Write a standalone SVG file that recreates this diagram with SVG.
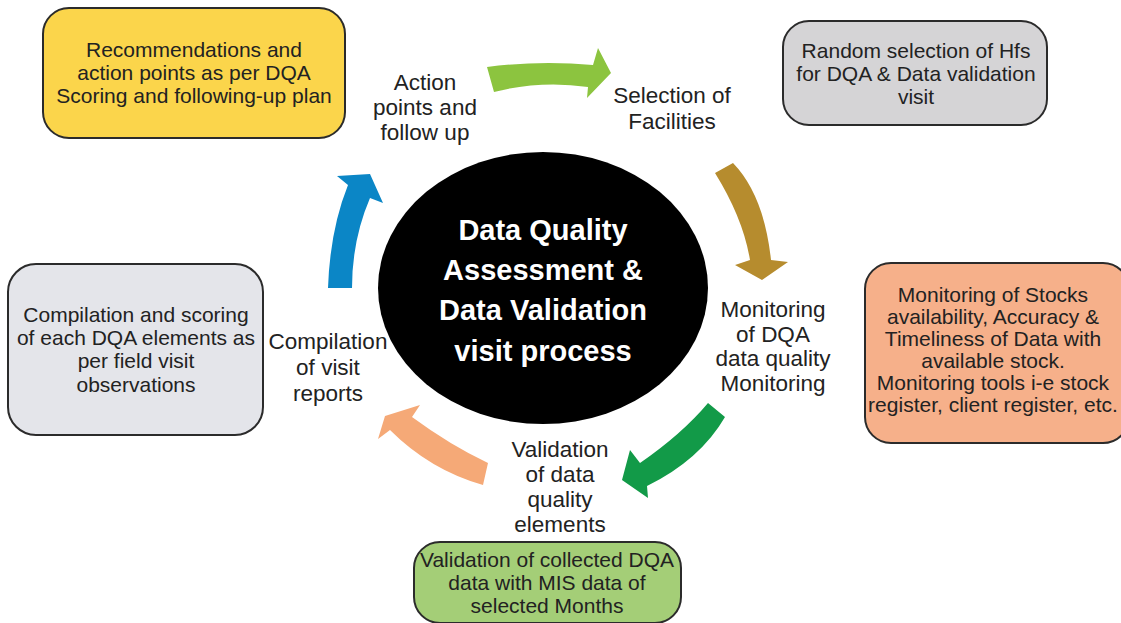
<svg xmlns="http://www.w3.org/2000/svg" width="1121" height="623" viewBox="0 0 1121 623">
<style>
.box{stroke:#2b2b2b;stroke-width:2}
.bt{font-family:"Liberation Sans",Arial,sans-serif;font-size:21px;fill:#222;text-anchor:middle}
.lb{font-family:"Liberation Sans",Arial,sans-serif;font-size:22.5px;fill:#222;text-anchor:middle}
.ct{font-family:"Liberation Sans",Arial,sans-serif;font-size:29px;font-weight:bold;fill:#fff;text-anchor:middle}
</style>
<rect width="1121" height="623" fill="#fff"/>
<g id="center">
<ellipse cx="543" cy="288" rx="165" ry="136" fill="#000"/>
<text class="ct" x="543" y="240">Data Quality</text>
<text class="ct" x="543" y="280">Assessment &amp;</text>
<text class="ct" x="543" y="320">Data Validation</text>
<text class="ct" x="543" y="361">visit process</text>
</g>
<g id="connectors">
<path d="M487,67 Q540,60 593,65 L598,48 L611,73 L587,98 L588,87 Q541,80 494,92 Z" fill="#8cc43f"/>
<path d="M715,173 L733,163 Q764,195 771,260 L788,262 L762,280 L735,265 L750,260 Q743,218 715,173 Z" fill="#b68c2e"/>
<path d="M708,403 L725,417 Q700,460 647,486 L648,498 L622,480 L630,450 L640,463 Q682,434 708,403 Z" fill="#129a48"/>
<path d="M488,463 L483,485 Q430,470 390,430 L378,439 L385,416 L420,405 L412,417 Q450,445 488,463 Z" fill="#f5a977"/>
<path d="M328,288 L352,288 Q352,240 370,198 L383,203 L370,174 L337,176 L348,185 Q330,230 328,288 Z" fill="#0b86c6"/>
</g>
<g id="lbl-action">
<text class="lb" x="425" y="90">Action</text>
<text class="lb" x="425" y="115">points and</text>
<text class="lb" x="425" y="140">follow up</text>
</g>
<g id="lbl-selection">
<text class="lb" x="672" y="103">Selection of</text>
<text class="lb" x="672" y="129">Facilities</text>
</g>
<g id="lbl-monitoring">
<text class="lb" x="773" y="317">Monitoring</text>
<text class="lb" x="773" y="342">of DQA</text>
<text class="lb" x="773" y="366">data quality</text>
<text class="lb" x="773" y="391">Monitoring</text>
</g>
<g id="lbl-validation">
<text class="lb" x="560" y="457">Validation</text>
<text class="lb" x="560" y="482">of data</text>
<text class="lb" x="560" y="507">quality</text>
<text class="lb" x="560" y="532">elements</text>
</g>
<g id="lbl-compilation">
<text class="lb" x="328" y="349">Compilation</text>
<text class="lb" x="328" y="375">of visit</text>
<text class="lb" x="328" y="401">reports</text>
</g>
<g id="box-recommendations">
<rect class="box" x="43" y="8" width="302" height="130" rx="26" fill="#fbd54b"/>
<text class="bt" x="194" y="57">Recommendations and</text>
<text class="bt" x="194" y="80">action points as per DQA</text>
<text class="bt" x="194" y="103">Scoring and following-up plan</text>
</g>
<g id="box-random">
<rect class="box" x="783" y="21" width="264" height="104" rx="26" fill="#d5d4d6"/>
<text class="bt" x="916" y="58">Random selection of Hfs</text>
<text class="bt" x="916" y="81">for DQA &amp; Data validation</text>
<text class="bt" x="916" y="104">visit</text>
</g>
<g id="box-compilation">
<rect class="box" x="8" y="264" width="255" height="171" rx="28" fill="#e4e5ea"/>
<text class="bt" x="136" y="322">Compilation and scoring</text>
<text class="bt" x="136" y="345">of each DQA elements as</text>
<text class="bt" x="136" y="368">per field visit</text>
<text class="bt" x="136" y="392">observations</text>
</g>
<g id="box-stocks">
<rect class="box" x="865" y="263" width="264" height="180" rx="26" fill="#f6b08a"/>
<text class="bt" x="993" y="302">Monitoring of Stocks</text>
<text class="bt" x="993" y="324">availability, Accuracy &amp;</text>
<text class="bt" x="993" y="346">Timeliness of Data with</text>
<text class="bt" x="993" y="368">available stock.</text>
<text class="bt" x="993" y="390">Monitoring tools i-e stock</text>
<text class="bt" x="993" y="412">register, client register, etc.</text>
</g>
<g id="box-validation">
<rect class="box" x="414" y="542" width="267" height="81" rx="26" fill="#a4ce77"/>
<text class="bt" x="547" y="567">Validation of collected DQA</text>
<text class="bt" x="547" y="590">data with MIS data of</text>
<text class="bt" x="547" y="613">selected Months</text>
</g>
</svg>
